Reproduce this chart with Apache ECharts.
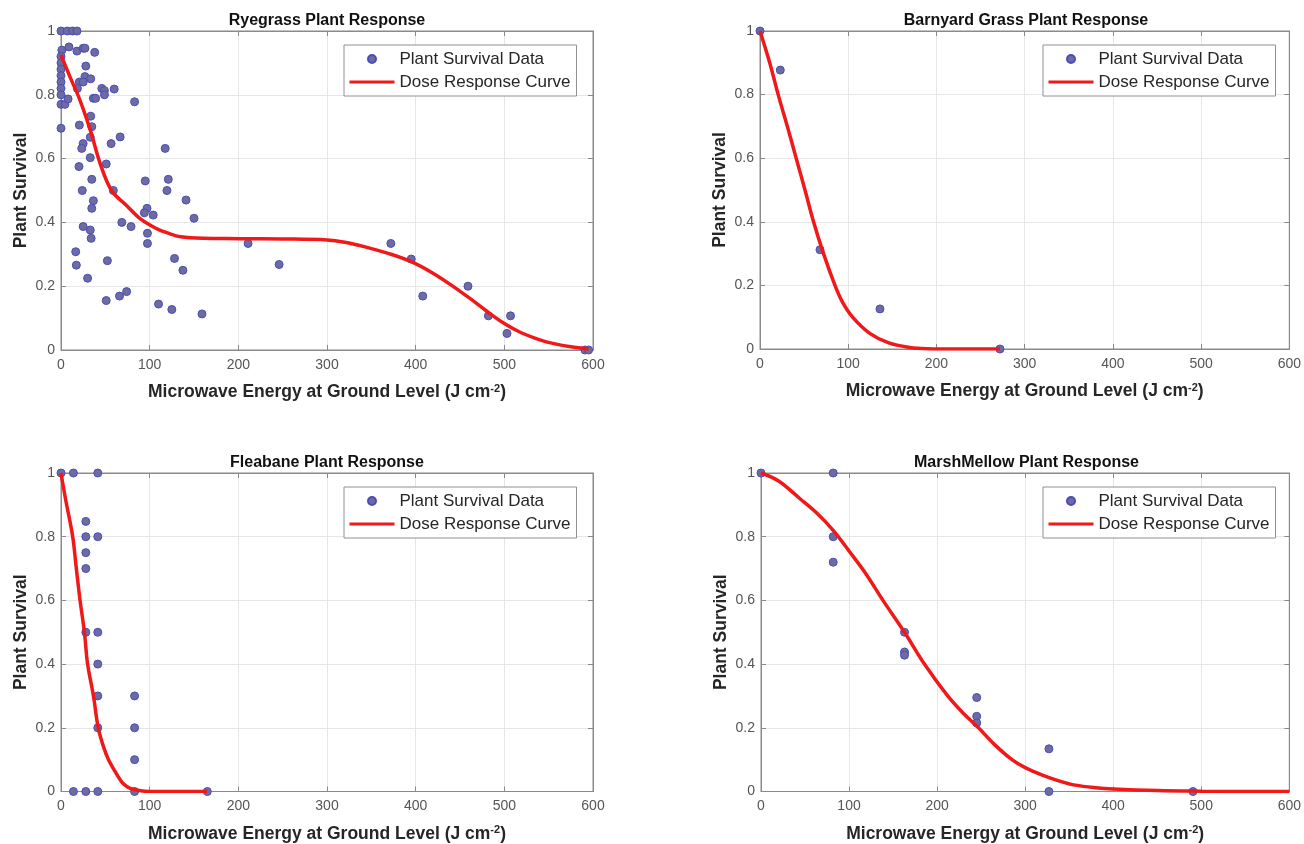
<!DOCTYPE html>
<html><head><meta charset="utf-8">
<script src="https://cdn.jsdelivr.net/npm/echarts@6.0.0/dist/echarts.min.js"></script>
<style>html,body{margin:0;padding:0;background:#fff}#c{width:1304px;height:844px}</style>
</head><body><div id="c"></div>
<script>
// ---- data ----
const xTicks = [0, 100, 200, 300, 400, 500, 600];
const yTicks = [0, 0.2, 0.4, 0.6, 0.8, 1];
const titles = ['Ryegrass Plant Response', 'Barnyard Grass Plant Response', 'Fleabane Plant Response', 'MarshMellow Plant Response'];
const xLabel = 'Microwave Energy at Ground Level (J cm{sup|-2})';
const yLabel = 'Plant Survival';
const legendNames = ['Plant Survival Data', 'Dose Response Curve'];

const ryeX = [0, 7, 13, 18, 1, 9, 18, 25, 27, 38, 0, 0, 0, 0, 0, 0, 0, 0, 4.5, 8, 0, 28, 27, 33.5, 20.7, 25, 18.5, 46, 49, 49, 60, 36.5, 39, 83, 33.5, 20.7, 34.7, 66.7, 56.5, 25, 23.4, 33, 117.5, 33, 20.3, 51, 34.7, 95, 121, 119.5, 24, 59, 36.5, 34.7, 141, 97, 94, 104, 150, 68.6, 79, 25, 33, 34, 97.5, 97.5, 16.6, 17.3, 52.3, 128, 137.5, 30, 74, 66, 51, 110, 125, 159, 211, 246, 372, 395, 408, 459, 482, 507, 503, 591, 595];
const ryeY = [1, 1, 1, 1, 0.94, 0.95, 0.937, 0.946, 0.946, 0.933, 0.92, 0.9, 0.88, 0.86, 0.84, 0.82, 0.8, 0.77, 0.77, 0.787, 0.695, 0.89, 0.857, 0.85, 0.84, 0.84, 0.82, 0.82, 0.813, 0.8, 0.818, 0.789, 0.789, 0.778, 0.733, 0.705, 0.7, 0.668, 0.647, 0.647, 0.632, 0.667, 0.632, 0.603, 0.575, 0.583, 0.535, 0.53, 0.535, 0.5, 0.5, 0.5, 0.468, 0.444, 0.47, 0.444, 0.43, 0.423, 0.413, 0.4, 0.387, 0.387, 0.376, 0.35, 0.366, 0.334, 0.308, 0.266, 0.28, 0.287, 0.25, 0.225, 0.183, 0.169, 0.155, 0.144, 0.127, 0.113, 0.334, 0.268, 0.334, 0.285, 0.169, 0.2, 0.107, 0.107, 0.052, 0, 0];
const ryeCurveX = [0, 10, 21, 33, 44, 57, 75, 90, 108, 120, 135, 160, 200, 250, 300, 320, 342, 370, 395, 420, 443, 462, 481, 500, 519, 540, 556, 575, 595];
const ryeCurveY = [0.925, 0.857, 0.786, 0.69, 0.586, 0.5, 0.45, 0.41, 0.38, 0.367, 0.355, 0.35, 0.349, 0.348, 0.345, 0.338, 0.324, 0.302, 0.277, 0.24, 0.198, 0.16, 0.12, 0.083, 0.054, 0.032, 0.02, 0.01, 0.003];

const barnX = [0, 23, 68, 136, 272];
const barnY = [1, 0.877, 0.312, 0.126, 0];
const barnCurveX = [0, 11, 20.6, 31, 41, 51, 60.7, 72, 85, 93, 105, 124, 146, 170, 190, 220, 272];
const barnCurveY = [1, 0.9, 0.8, 0.7, 0.6, 0.5, 0.4, 0.3, 0.2, 0.15, 0.1, 0.05, 0.019, 0.005, 0.001, 0, 0];

const fleaX = [0, 14, 41.5, 28, 28, 41.5, 28, 28, 28, 41.5, 41.5, 41.5, 41.5, 83, 83, 83, 83, 14, 28, 41.5, 165];
const fleaY = [1, 1, 1, 0.848, 0.8, 0.8, 0.75, 0.7, 0.5, 0.5, 0.4, 0.3, 0.2, 0.3, 0.2, 0.1, 0, 0, 0, 0, 0];
const fleaCurveX = [0, 5, 13.2, 17.3, 21.5, 26.4, 30, 36.6, 42, 48, 53.6, 63.8, 70, 78, 88, 100, 130, 165];
const fleaCurveY = [1, 0.92, 0.8, 0.7, 0.6, 0.5, 0.4, 0.3, 0.2, 0.14, 0.1, 0.05, 0.025, 0.01, 0.003, 0, 0, 0];

const marshX = [0, 82, 82, 82, 163, 163, 163, 245, 245, 245, 327, 327, 490.6];
const marshY = [1, 1, 0.8, 0.72, 0.5, 0.438, 0.428, 0.295, 0.236, 0.215, 0.134, 0, 0];
const marshCurveX = [0, 20, 44, 63, 82, 100, 120, 138.5, 163, 185.6, 212, 230, 247, 265, 285, 300, 321, 340, 357, 380, 400, 450, 500, 550, 600];
const marshCurveY = [1, 0.975, 0.92, 0.875, 0.82, 0.755, 0.68, 0.6, 0.5, 0.4, 0.3, 0.245, 0.2, 0.148, 0.1, 0.075, 0.05, 0.032, 0.02, 0.012, 0.008, 0.003, 0.001, 0, 0];

// ---- build ----
const zip = (a, b) => a.map((v, i) => [v, b[i]]);
const scatterSets = [zip(ryeX, ryeY), zip(barnX, barnY), zip(fleaX, fleaY), zip(marshX, marshY)];
const curveSets = [zip(ryeCurveX, ryeCurveY), zip(barnCurveX, barnCurveY), zip(fleaCurveX, fleaCurveY), zip(marshCurveX, marshCurveY)];

const panels = [
  { left: 61, top: 31, width: 532, height: 319 },
  { left: 760, top: 31, width: 532, height: 318 },
  { left: 61, top: 473, width: 532, height: 319 },
  { left: 761, top: 473, width: 531, height: 319 }
];
const FONT = '"Liberation Sans", Arial, Helvetica, sans-serif';
const axisColor = '#8a8a8a';
const xMin = xTicks[0], xMax = xTicks[xTicks.length - 1], xInt = xTicks[1] - xTicks[0];
const yMin = yTicks[0], yMax = yTicks[yTicks.length - 1], yInt = yTicks[1] - yTicks[0];

const grid = [], xAxis = [], yAxis = [], series = [], title = [], legend = [];
panels.forEach((p, i) => {
  grid.push({ left: p.left, top: p.top, width: p.width, height: p.height, show: true, borderColor: axisColor, borderWidth: 1, backgroundColor: '#fff' });
  const common = { gridIndex: i, type: 'value', min: xMin, max: xMax, interval: xInt };
  xAxis.push(Object.assign({}, common, {
    position: 'bottom',
    axisLine: { show: true, onZero: false, lineStyle: { color: axisColor, width: 1 } },
    axisTick: { show: true, inside: true, length: 5, lineStyle: { color: axisColor } },
    axisLabel: { show: true, fontSize: 14, color: '#555', margin: 8, fontFamily: FONT },
    splitLine: { show: true, lineStyle: { color: '#e6e6e6', width: 1 } },
    name: xLabel, nameLocation: 'middle', nameGap: 33,
    nameTextStyle: { fontSize: 17.5, fontWeight: 'bold', color: '#262626', fontFamily: FONT,
      rich: { sup: { fontSize: 11, fontWeight: 'bold', color: '#262626', fontFamily: FONT, verticalAlign: 'bottom', padding: [0, 0, 8, 0] } } }
  }));
  xAxis.push(Object.assign({}, common, {
    position: 'top',
    axisLine: { show: true, onZero: false, lineStyle: { color: axisColor, width: 1 } },
    axisTick: { show: true, inside: true, length: 5, lineStyle: { color: axisColor } },
    axisLabel: { show: false }, splitLine: { show: false }
  }));
  const ycommon = { gridIndex: i, type: 'value', min: yMin, max: yMax, interval: yInt };
  yAxis.push(Object.assign({}, ycommon, {
    position: 'left',
    axisLine: { show: true, onZero: false, lineStyle: { color: axisColor, width: 1 } },
    axisTick: { show: true, inside: true, length: 5, lineStyle: { color: axisColor } },
    axisLabel: { show: true, fontSize: 14, color: '#555', margin: 6, fontFamily: FONT },
    splitLine: { show: true, lineStyle: { color: '#e6e6e6', width: 1 } },
    name: yLabel, nameLocation: 'middle', nameGap: 31, nameRotate: 90,
    nameTextStyle: { fontSize: 17.5, fontWeight: 'bold', color: '#262626', fontFamily: FONT }
  }));
  yAxis.push(Object.assign({}, ycommon, {
    position: 'right',
    axisLine: { show: true, onZero: false, lineStyle: { color: axisColor, width: 1 } },
    axisTick: { show: true, inside: true, length: 5, lineStyle: { color: axisColor } },
    axisLabel: { show: false }, splitLine: { show: false }
  }));
  series.push({
    name: legendNames[0], type: 'scatter', xAxisIndex: i * 2, yAxisIndex: i * 2,
    data: scatterSets[i], symbol: 'circle', symbolSize: 8, z: 3,
    itemStyle: { color: '#6c6ca2', borderColor: '#4c4cb8', borderWidth: 1, opacity: 1 },
    emphasis: { disabled: true }
  });
  series.push({
    name: legendNames[1], type: 'line', xAxisIndex: i * 2, yAxisIndex: i * 2,
    data: curveSets[i], symbol: 'none', showSymbol: false, smooth: 0.35, z: 4,
    lineStyle: { color: '#f01818', width: 3.5 }, itemStyle: { color: '#f01818' },
    emphasis: { disabled: true }
  });
  title.push({
    text: titles[i], left: p.left + p.width / 2, textAlign: 'center', top: p.top - 18,
    textStyle: { fontSize: 16, fontWeight: 'bold', color: '#111', fontFamily: FONT }, padding: 0
  });
  legend.push({
    left: p.left + p.width - 14 - 235, top: p.top + 14,
    orient: 'vertical',
    data: [
      { name: legendNames[0], icon: 'circle' },
      { name: legendNames[1], itemStyle: { color: 'rgba(0,0,0,0)', borderColor: 'rgba(0,0,0,0)', borderWidth: 0, opacity: 0 }, lineStyle: { color: '#f01818', width: 3 } }
    ],
    itemWidth: 45, itemHeight: 8, itemGap: 3,
    padding: [4, 6, 4, 4],
    backgroundColor: '#fff', borderColor: '#909090', borderWidth: 1, borderRadius: 0,
    textStyle: { fontSize: 17, color: '#262626', fontFamily: FONT, lineHeight: 20 },
    selectedMode: false
  });
});

const chart = echarts.init(document.getElementById('c'), null, { renderer: 'canvas' });
chart.setOption({
  backgroundColor: '#fff', animation: false,
  textStyle: { fontFamily: FONT },
  title, legend, grid, xAxis, yAxis, series
});
</script>
</body></html>
